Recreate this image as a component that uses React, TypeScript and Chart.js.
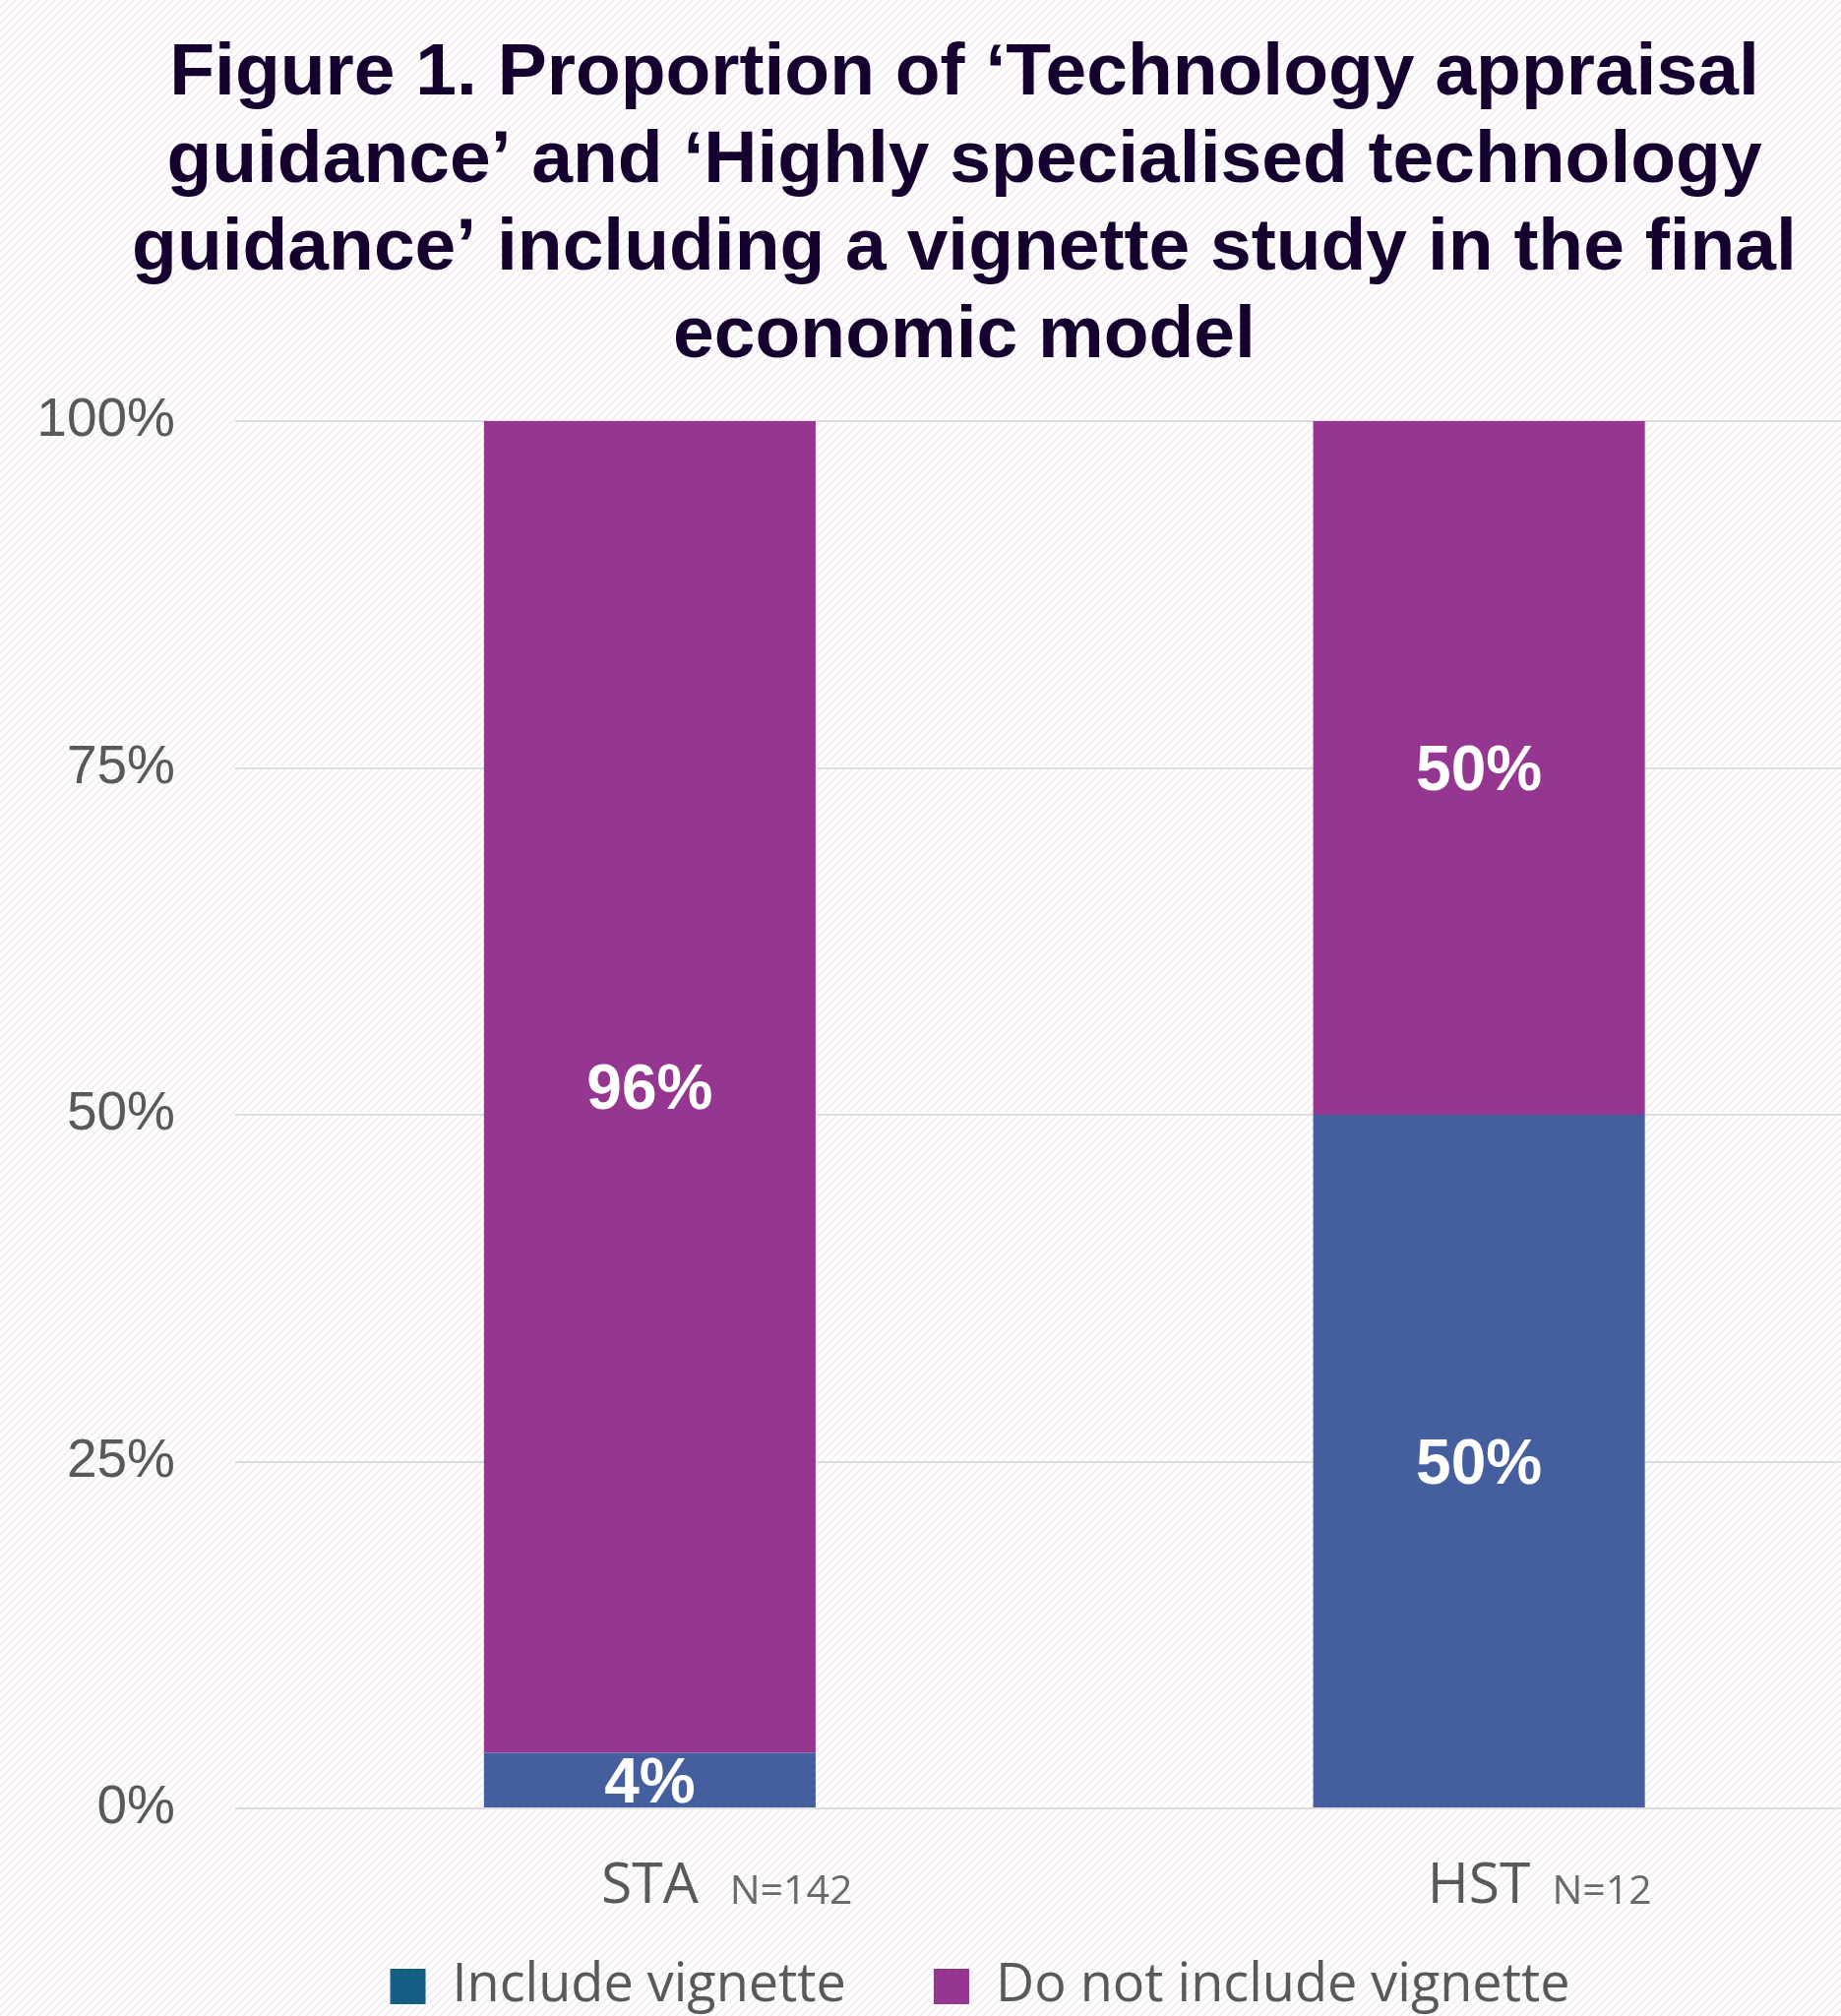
import React, { useEffect, useRef } from "react";
import { Chart, registerables } from "chart.js";

Chart.register(...registerables);

const titleLines = [
  "Figure 1. Proportion of \u2018Technology appraisal",
  "guidance\u2019 and \u2018Highly specialised technology",
  "guidance\u2019 including a vignette study in the final",
  "economic model",
];
const categories = ["STA", "HST"];
const sampleSizes = ["N=142", "N=12"];
const seriesNames = ["Include vignette", "Do not include vignette"];
const includeVignette = [4, 50];
const notIncludeVignette = [96, 50];
const yTickValues = [0, 25, 50, 75, 100];

const BAR_COLORS = ["#445e9e", "#953691"];
const LEGEND_COLORS = ["#155f82", "#953691"];

const W = 1960;
const H = 2056;
const X_TICK_PAD = 46;
const X_FONT_SIZE = 57;
const X_FONT = '"Open Sans", "Noto Sans", sans-serif';

const backgroundPlugin = {
  id: "bgHatch",
  beforeDraw(chart: any) {
    const ctx = chart.ctx;
    const tile = document.createElement("canvas");
    tile.width = 8;
    tile.height = 8;
    const t = tile.getContext("2d")!;
    t.fillStyle = "#ffffff";
    t.fillRect(0, 0, 8, 8);
    t.strokeStyle = "#f3eaf2";
    t.lineWidth = 1.6;
    t.beginPath();
    t.moveTo(-1, 9);
    t.lineTo(9, -1);
    t.moveTo(-1, 1);
    t.lineTo(1, -1);
    t.moveTo(7, 9);
    t.lineTo(9, 7);
    t.stroke();
    const pat = ctx.createPattern(tile, "repeat");
    ctx.save();
    ctx.fillStyle = pat;
    ctx.fillRect(0, 0, chart.width, chart.height);
    ctx.restore();
  },
};

const legendShiftPlugin = {
  id: "legendShift",
  afterLayout(chart: any) {
    if (chart.legend) {
      chart.legend.left += 16;
      chart.legend.right += 16;
    }
  },
};

const dataLabelPlugin = {
  id: "segLabels",
  afterDatasetsDraw(chart: any) {
    const ctx = chart.ctx;
    ctx.save();
    ctx.font = 'bold 64px "Liberation Sans", Arial, sans-serif';
    ctx.fillStyle = "#ffffff";
    ctx.textAlign = "center";
    ctx.textBaseline = "middle";
    chart.data.datasets.forEach((ds: any, di: number) => {
      const meta = chart.getDatasetMeta(di);
      meta.data.forEach((bar: any, i: number) => {
        const v = ds.data[i];
        if (!v) return;
        const p = bar.getProps(["x", "y", "base"], true);
        ctx.fillText(v + "%", p.x, (p.y + p.base) / 2 + 5);
      });
    });
    ctx.restore();
  },
};

const sampleSizePlugin = {
  id: "sampleSizes",
  afterDraw(chart: any) {
    const xs = chart.scales.x;
    const ctx = chart.ctx;
    ctx.save();
    const mid = xs.top + X_TICK_PAD + (X_FONT_SIZE * 1.2) / 2;
    categories.forEach((cat, i) => {
      ctx.font = `${X_FONT_SIZE}px ${X_FONT}`;
      ctx.textBaseline = "middle";
      const m = ctx.measureText(cat);
      const baseY = mid + m.actualBoundingBoxDescent;
      const x = xs.getPixelForTick(i) + m.width / 2 + (i === 0 ? 32 : 22);
      ctx.font = `41px ${X_FONT}`;
      ctx.textBaseline = "alphabetic";
      ctx.textAlign = "left";
      ctx.fillStyle = "#6a6a6a";
      ctx.fillText(sampleSizes[i], x, baseY);
    });
    ctx.restore();
  },
};

export default function App() {
  const ref = useRef<HTMLCanvasElement>(null);

  useEffect(() => {
    if (!ref.current) return;
    const chart = new Chart(ref.current, {
      type: "bar",
      data: {
        labels: categories,
        datasets: [
          {
            label: seriesNames[0],
            data: includeVignette,
            backgroundColor: BAR_COLORS[0],
            categoryPercentage: 1,
            barPercentage: 0.4,
          },
          {
            label: seriesNames[1],
            data: notIncludeVignette,
            backgroundColor: BAR_COLORS[1],
            categoryPercentage: 1,
            barPercentage: 0.4,
          },
        ],
      },
      options: {
        animation: false,
        responsive: false,
        devicePixelRatio: 1,
        layout: { padding: { left: 35.5, right: 35.5, top: 0, bottom: 0 } },
        plugins: {
          title: {
            display: true,
            text: titleLines,
            color: "#150030",
            font: {
              family: '"Liberation Sans", Arial, sans-serif',
              size: 75,
              weight: "bold",
              lineHeight: 89 / 75,
            },
            padding: { top: 30.5, bottom: 41.5 },
          },
          legend: {
            position: "bottom",
            labels: {
              font: { family: X_FONT, size: 54 },
              color: "#595959",
              boxWidth: 36,
              boxHeight: 36,
              padding: 48,
              generateLabels: () =>
                seriesNames.map((name, i) => ({
                  text: i < seriesNames.length - 1 ? name + "\u2002 " : name,
                  fillStyle: LEGEND_COLORS[i],
                  strokeStyle: LEGEND_COLORS[i],
                  lineWidth: 0,
                  hidden: false,
                  datasetIndex: i,
                  fontColor: "#595959",
                })),
            },
          },
          tooltip: { enabled: false },
        },
        scales: {
          x: {
            stacked: true,
            grid: { display: false, drawTicks: false },
            border: { display: false },
            ticks: {
              font: { family: X_FONT, size: X_FONT_SIZE },
              color: "#595959",
              padding: X_TICK_PAD,
              maxRotation: 0,
            },
            afterFit: (s: any) => {
              s.height = 106;
            },
          },
          y: {
            stacked: true,
            min: 0,
            max: 100,
            afterBuildTicks: (s: any) => {
              s.ticks = yTickValues.map((v) => ({ value: v }));
            },
            ticks: {
              callback: (v: any) => v + "%",
              font: { family: '"Liberation Sans", Arial, sans-serif', size: 55 },
              color: "#595959",
              padding: 61,
            },
            grid: { color: "#dcdcdc", lineWidth: 2, drawTicks: false },
            border: { display: false },
            afterFit: (s: any) => {
              s.width = 203.5;
            },
          },
        },
      },
      plugins: [backgroundPlugin, legendShiftPlugin, dataLabelPlugin, sampleSizePlugin],
    });
    return () => chart.destroy();
  }, []);

  return (
    <div
      style={{
        position: "absolute",
        left: 0,
        top: 0,
        width: 1871,
        height: 2049,
        overflow: "hidden",
        background: "#ffffff",
      }}
    >
      <canvas
        ref={ref}
        width={W}
        height={H}
        style={{ display: "block", width: W, height: H }}
      />
    </div>
  );
}
